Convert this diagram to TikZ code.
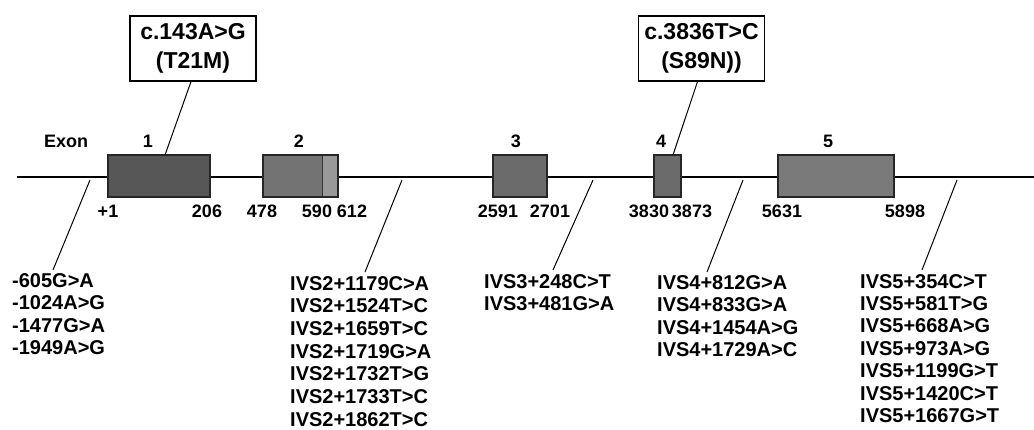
\documentclass[tikz,border=0pt]{standalone}
\usepackage{fontspec}
\setmainfont{Liberation Sans}
\begin{document}
\begin{tikzpicture}[x=1pt,y=-1pt,
  exon/.style={draw=black!85,line width=1.3pt},
  lbl/.style={font=\bfseries\fontsize{20}{23}\selectfont,inner sep=0pt,anchor=base west},
  num/.style={font=\bfseries\fontsize{18}{22}\selectfont,inner sep=0pt,anchor=base},
  mut/.style={draw=black,line width=1.2pt,fill=white,minimum width=126pt,minimum height=65pt,align=center,
    font=\bfseries\fontsize{23}{29}\selectfont,inner sep=0pt},
  ptr/.style={line width=1pt}]
\useasboundingbox (0,0) rectangle (1034,429);
% main line
\coordinate (L0) at (17,177);
\coordinate (L1) at (1034,177);
\draw[line width=1.4pt] (L0) -- (L1);
% exons
\path[exon,fill=black!66] (108,155) rectangle (210,197);
\node[inner sep=0pt,minimum width=102pt,minimum height=42pt] (e1) at (159,176) {};
\path[exon,fill=black!55] (263,155) rectangle (338,197);
\fill[black!40] (323,156) rectangle (337,196);
\draw[black!80,line width=1pt] (322,155) -- (322,197);
\draw[exon] (263,155) rectangle (338,197);
\node[inner sep=0pt,minimum width=75pt,minimum height=42pt] (e2) at (300.5,176) {};
\path[exon,fill=black!58] (493,155) rectangle (547,197);
\node[inner sep=0pt,minimum width=54pt,minimum height=42pt] (e3) at (520,176) {};
\path[exon,fill=black!58] (654,155) rectangle (681,197);
\node[inner sep=0pt,minimum width=27pt,minimum height=42pt] (e4) at (667.5,176) {};
\path[exon,fill=black!52] (778,155) rectangle (894,197);
\node[inner sep=0pt,minimum width=116pt,minimum height=42pt] (e5) at (836,176) {};
% exon labels
\node[num,anchor=base west] (exlbl) at (44,147) {Exon};
\node[num] (n1) at (148,147) {1};
\node[num] (n2) at (299,147) {2};
\node[num] (n3) at (516,147) {3};
\node[num] (n4) at (661,147) {4};
\node[num] (n5) at (828,147) {5};
% positions
\node[num] (p1) at (108,217) {+1};
\node[num] (p2) at (207,217) {206};
\node[num] (p3) at (262,217) {478};
\node[num] (p4) at (317,217) {590};
\node[num] (p5) at (352,217) {612};
\node[num] (p6) at (498,217) {2591};
\node[num] (p7) at (550,217) {2701};
\node[num] (p8) at (649,217) {3830};
\node[num] (p9) at (692,217) {3873};
\node[num] (p10) at (782,217) {5631};
\node[num] (p11) at (905,217) {5898};
% mutation boxes
\node[mut] (m1) at (193,48.5) {c.143A>G\\(T21M)};
\node[mut] (m2) at (701.5,48.5) {c.3836T>C\\(S89N))};
\coordinate (t1) at (165,155);
\coordinate (t2) at (673,155);
\draw[ptr] (m1.south) ++(-2,0) coordinate (m1s) -- (t1);
\draw[ptr] (m2.south) ++(-4,0) coordinate (m2s) -- (t2);
% pointers to lists
\coordinate (a1) at (90,180); \coordinate (b1) at (53,270);
\coordinate (a2) at (402,180); \coordinate (b2) at (365,272);
\coordinate (a3) at (593,180); \coordinate (b3) at (553,270);
\coordinate (a4) at (743,180); \coordinate (b4) at (707,272);
\coordinate (a5) at (957,180); \coordinate (b5) at (922,270);
\foreach \i in {1,...,5} \draw[ptr] (a\i) -- (b\i);
% lists
\foreach \t [count=\k from 0] in {-605G>A,-1024A>G,-1477G>A,-1949A>G}
  \node[lbl] (l1-\k) at (12,287+22.5*\k) {\t};
\foreach \t [count=\k from 0] in {IVS2+1179C>A,IVS2+1524T>C,IVS2+1659T>C,IVS2+1719G>A,IVS2+1732T>G,IVS2+1733T>C,IVS2+1862T>C}
  \node[lbl] (l2-\k) at (290,290+22.7*\k) {\t};
\foreach \t [count=\k from 0] in {IVS3+248C>T,IVS3+481G>A}
  \node[lbl] (l3-\k) at (484,288+22.5*\k) {\t};
\foreach \t [count=\k from 0] in {IVS4+812G>A,IVS4+833G>A,IVS4+1454A>G,IVS4+1729A>C}
  \node[lbl] (l4-\k) at (657,289+22.5*\k) {\t};
\foreach \t [count=\k from 0] in {IVS5+354C>T,IVS5+581T>G,IVS5+668A>G,IVS5+973A>G,IVS5+1199G>T,IVS5+1420C>T,IVS5+1667G>T}
  \node[lbl] (l5-\k) at (860,288+22.4*\k) {\t};
\end{tikzpicture}
\end{document}
